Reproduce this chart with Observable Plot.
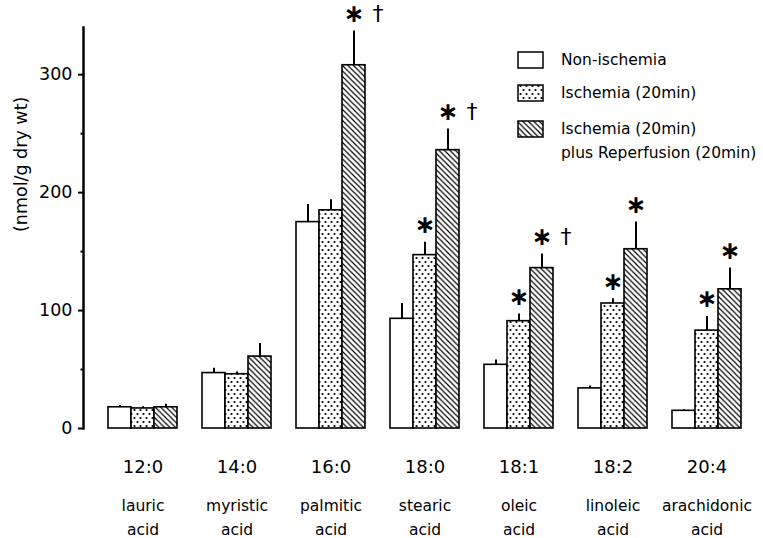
<!DOCTYPE html>
<html><head><meta charset="utf-8">
<script src="https://cdn.jsdelivr.net/npm/d3@7"></script>
<script src="https://cdn.jsdelivr.net/npm/@observablehq/plot@0.6"></script>
<style>
body{margin:0;background:#fff;}
#wrap{position:relative;width:763px;height:538px;font-family:"DejaVu Sans",sans-serif;}
#legend{position:absolute;left:0;top:0;pointer-events:none;}
</style></head><body>
<svg width="0" height="0" style="position:absolute">
<defs>
<pattern id="dots" patternUnits="userSpaceOnUse" width="6" height="8">
 <rect width="6" height="8" fill="white"/>
 <circle cx="1.5" cy="2" r="1.1" fill="black"/>
 <circle cx="4.5" cy="6" r="1.1" fill="black"/>
</pattern>
<pattern id="hatch" patternUnits="userSpaceOnUse" width="5.5" height="5.5">
 <rect width="5.5" height="5.5" fill="white"/>
 <path d="M-1,-1 L6.5,6.5 M-1,4.5 L1,6.5 M4.5,-1 L6.5,1" stroke="black" stroke-width="1.2"/>
</pattern>
</defs></svg>
<div id="wrap"></div>
<script>
// ---- data ----
const categories = ["12:0", "14:0", "16:0", "18:0", "18:1", "18:2", "20:4"];
const acidNames = ["lauric\nacid", "myristic\nacid", "palmitic\nacid", "stearic\nacid", "oleic\nacid", "linoleic\nacid", "arachidonic\nacid"];
const series = ["Non-ischemia", "Ischemia (20min)", "Ischemia (20min) plus Reperfusion (20min)"];
const legendLabels = ["Non-ischemia", "Ischemia (20min)", "Ischemia (20min)\nplus Reperfusion (20min)"];

const nonIschemia      = [18, 47, 175, 93, 54, 34, 15];
const nonIschemiaErr   = [1.5, 4, 15, 13, 4, 2, 1];
const ischemia         = [17, 46, 185, 147, 91, 106, 83];
const ischemiaErr      = [1.5, 2, 9, 11, 6, 4, 12];
const reperfusion      = [18, 61, 308, 236, 136, 152, 118];
const reperfusionErr   = [2.5, 11, 29, 18, 12, 23, 18];

const starNon   = ["", "", "", "", "", "", ""];
const starIsch  = ["", "", "", "*", "*", "*", "*"];
const starRep   = ["", "", "*", "*", "*", "*", "*"];
const daggerRep = ["", "", "†", "†", "†", "", ""];

const yTicks = [0, 100, 200, 300];
const yMinorTicks = [50, 150, 250];
const yLabel = "(nmol/g dry wt)";

// ---- table ----
const valuesBySeries = [nonIschemia, ischemia, reperfusion];
const errBySeries = [nonIschemiaErr, ischemiaErr, reperfusionErr];
const starsBySeries = [starNon, starIsch, starRep];
const daggersBySeries = [starNon, starNon, daggerRep];
const rows = [];
categories.forEach((c, i) => {
  series.forEach((s, j) => {
    rows.push({
      cat: c, series: s,
      value: valuesBySeries[j][i],
      top: valuesBySeries[j][i] + errBySeries[j][i],
      star: starsBySeries[j][i] ? "∗" : "",
      dagger: daggersBySeries[j][i]
    });
  });
});
const catRows = categories.map((c, i) => ({cat: c, name: acidNames[i]}));

const chart = Plot.plot({
  width: 763,
  height: 538,
  marginTop: 27,
  marginBottom: 110,
  marginLeft: 82,
  marginRight: 21,
  style: {fontFamily: "DejaVu Sans, sans-serif", fontSize: "16px", background: "white", color: "black", overflow: "visible"},
  fx: {domain: categories, paddingInner: 0, paddingOuter: 0, axis: null},
  x: {domain: series, paddingInner: 0, paddingOuter: 0.49, align: 1, axis: null},
  y: {domain: [0, 340], axis: null},
  color: {domain: series, range: ["white", "url(#dots)", "url(#hatch)"]},
  marks: [
    Plot.barY(rows, {fx: "cat", x: "series", y: "value", fill: "series", stroke: "black", strokeWidth: 1.6}),
    Plot.ruleX(rows, {fx: "cat", x: "series", y1: "value", y2: "top", stroke: "black", strokeWidth: 2}),
    Plot.text(rows, {fx: "cat", x: "series", y: "top", text: "star", dy: -17, fontSize: 25, fontWeight: "bold", lineAnchor: "middle"}),
    Plot.text(rows, {fx: "cat", x: "series", y: "top", text: "dagger", dx: 24, dy: -17, fontSize: 22, lineAnchor: "middle"}),
    Plot.frame({anchor: "left", facetAnchor: "left", strokeWidth: 2.5}),
    Plot.axisY({ticks: yTicks, tickSize: 5, tickPadding: 6, strokeWidth: 2, fontSize: 17.5, tickFormat: d => String(d)}),
    Plot.axisY({ticks: yMinorTicks, tickSize: 2.5, strokeWidth: 2, text: null, label: null}),
    Plot.text(catRows, {fx: "cat", x: () => series[1], text: "cat", frameAnchor: "bottom", dy: 39, fontSize: 18, lineAnchor: "middle"}),
    Plot.text(catRows, {fx: "cat", x: () => series[1], text: "name", frameAnchor: "bottom", dy: 87, fontSize: 15.5, lineAnchor: "middle", lineHeight: 1.5}),
    Plot.text([yLabel], {fx: () => categories[0], text: d => d, frameAnchor: "left", rotate: -90, dx: -62, dy: 4, fontSize: 17.5})
  ]
});

const wrap = document.getElementById("wrap");
wrap.appendChild(chart);

// ---- legend (overlay) ----
const lg = d3.select(wrap).append("svg").attr("id", "legend")
  .attr("width", 763).attr("height", 538)
  .style("font-family", "DejaVu Sans, sans-serif");
const fills = ["white", "url(#dots)", "url(#hatch)"];
const rowY = [60, 93, 129];
legendLabels.forEach((lab, i) => {
  lg.append("rect").attr("x", 518).attr("y", rowY[i] - 8).attr("width", 25).attr("height", 16)
    .attr("fill", fills[i]).attr("stroke", "black").attr("stroke-width", 1.5);
  const t = lg.append("text").attr("x", 561).attr("y", rowY[i]).attr("font-size", 15.5)
    .attr("dominant-baseline", "central");
  lab.split("\n").forEach((line, k) => {
    t.append("tspan").attr("x", 561).attr("dy", k === 0 ? 0 : 24).text(line);
  });
});
</script>
</body></html>
